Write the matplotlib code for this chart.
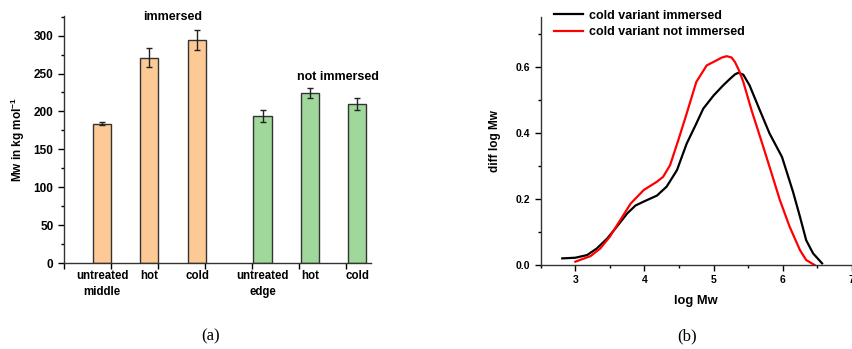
import matplotlib.pyplot as plt
import numpy as np

# (a) Mw of the samples
bar_labels = ["untreated\nmiddle", "hot", "cold", "untreated\nedge", "hot", "cold"]
bar_pos = [0.81, 1.81, 2.83, 4.23, 5.23, 6.23]
mw = [184, 271, 294, 194, 224, 210]
mw_err = [2, 12.5, 13, 8, 6.5, 8]
bar_colors = ["#fdc995"] * 3 + ["#a0d89c"] * 3

# (b) distributions
x_imm = [2.81, 3.0, 3.17, 3.31, 3.46, 3.6, 3.75, 3.87, 4.0, 4.18, 4.32, 4.47, 4.61,
         4.75, 4.85, 5.0, 5.14, 5.24, 5.31, 5.36, 5.43, 5.52, 5.67, 5.81, 5.99, 6.15,
         6.25, 6.34, 6.44, 6.57]
y_imm = [0.02, 0.022, 0.03, 0.05, 0.08, 0.116, 0.156, 0.18, 0.193, 0.21, 0.237,
         0.287, 0.367, 0.428, 0.473, 0.513, 0.544, 0.564, 0.577, 0.582, 0.576, 0.544,
         0.468, 0.398, 0.327, 0.221, 0.146, 0.075, 0.035, 0.005]
x_not = [3.0, 3.22, 3.36, 3.5, 3.65, 3.8, 3.99, 4.18, 4.27, 4.37, 4.49, 4.61, 4.75,
         4.9, 5.04, 5.12, 5.19, 5.26, 5.31, 5.37, 5.43, 5.55, 5.72, 5.81, 5.96, 6.1,
         6.25, 6.34, 6.46]
y_not = [0.01, 0.027, 0.05, 0.086, 0.136, 0.186, 0.227, 0.252, 0.267, 0.302, 0.378,
         0.458, 0.554, 0.604, 0.619, 0.628, 0.632, 0.628, 0.614, 0.588, 0.554, 0.468,
         0.357, 0.297, 0.196, 0.116, 0.045, 0.015, 0.0]

plt.rcParams['font.family'] = ['Liberation Sans', 'DejaVu Sans']
plt.rcParams['font.weight'] = 'bold'
plt.rcParams['mathtext.fontset'] = 'custom'
plt.rcParams['mathtext.bf'] = 'Liberation Sans:bold'
plt.rcParams['mathtext.rm'] = 'Liberation Sans:bold'
plt.rcParams['axes.linewidth'] = 1.0
plt.rcParams['axes.edgecolor'] = '#333333'

fig = plt.figure(figsize=(8.53, 3.49), dpi=100)

# ---- left: bars ----
ax1 = fig.add_axes([0.075, 0.2464, 0.36, 0.708])
ax1.bar(bar_pos, mw, width=0.4, color=bar_colors, edgecolor='#333333', linewidth=1.0,
        yerr=mw_err, capsize=2.5, error_kw=dict(elinewidth=1, ecolor='#222222', capthick=1))
ax1.set_xlim(0, 6.53)
ax1.set_ylim(0, 326)
ax1.spines['top'].set_visible(False)
ax1.spines['right'].set_visible(False)
ax1.set_xticks(range(7))
ax1.set_xticklabels([])
ax1.set_xticks(bar_pos, minor=True)
ax1.set_xticklabels(bar_labels, minor=True, fontsize=8.3, fontweight='bold', linespacing=1.45)
ax1.tick_params(axis='x', which='minor', length=0, pad=5)
ax1.tick_params(axis='x', which='major', length=4, width=1)
ax1.set_yticks(range(0, 301, 50))
ax1.set_yticks(range(0, 326, 25), minor=True)
ax1.tick_params(axis='y', which='major', length=4, width=1, labelsize=8.5)
ax1.tick_params(axis='y', which='minor', length=2, width=1)
ax1.set_ylabel("Mw in kg mol$^{\\mathbf{-1}}$", fontsize=8.5, fontweight='bold', labelpad=5)
ax1.text(2.3, 324, "immersed", ha='center', va='center', fontsize=9, fontweight='bold')
ax1.text(5.82, 245, "not immersed", ha='center', va='center', fontsize=9, fontweight='bold')
fig.text(0.247, 0.035, "(a)", ha='center', va='center', fontsize=12,
         family='Liberation Serif', fontweight='normal')

# ---- right: distributions ----
ax2 = fig.add_axes([0.634, 0.2407, 0.3646, 0.71])
ax2.plot(x_imm, y_imm, color='black', lw=1.6, label="cold variant immersed")
ax2.plot(x_not, y_not, color='#ff0000', lw=1.6, label="cold variant not immersed")
ax2.set_xlim(2.5, 7)
ax2.set_ylim(0, 0.75)
ax2.spines['top'].set_visible(False)
ax2.spines['right'].set_visible(False)
ax2.set_xticks(range(3, 8))
ax2.set_xticks(np.arange(2.5, 7.01, 0.5), minor=True)
ax2.set_yticks([0.0, 0.2, 0.4, 0.6])
ax2.set_yticklabels(["0.0", "0.2", "0.4", "0.6"])
ax2.set_yticks(np.arange(0, 0.75, 0.1), minor=True)
ax2.tick_params(which='major', length=4, width=1, labelsize=7.5)
ax2.tick_params(which='minor', length=2, width=1)
ax2.set_xlabel("log Mw", fontsize=9.3, fontweight='bold', labelpad=7)
ax2.set_ylabel("diff log Mw", fontsize=8.5, fontweight='bold', labelpad=11)
ax2.legend(loc='upper left', bbox_to_anchor=(0.027, 1.05), frameon=False, fontsize=9,
           handlelength=2.3, handletextpad=0.45, labelspacing=0.36, borderaxespad=0)
fig.text(0.806, 0.035, "(b)", ha='center', va='center', fontsize=12,
         family='Liberation Serif', fontweight='normal')

fig.savefig("out.png", dpi=100)
